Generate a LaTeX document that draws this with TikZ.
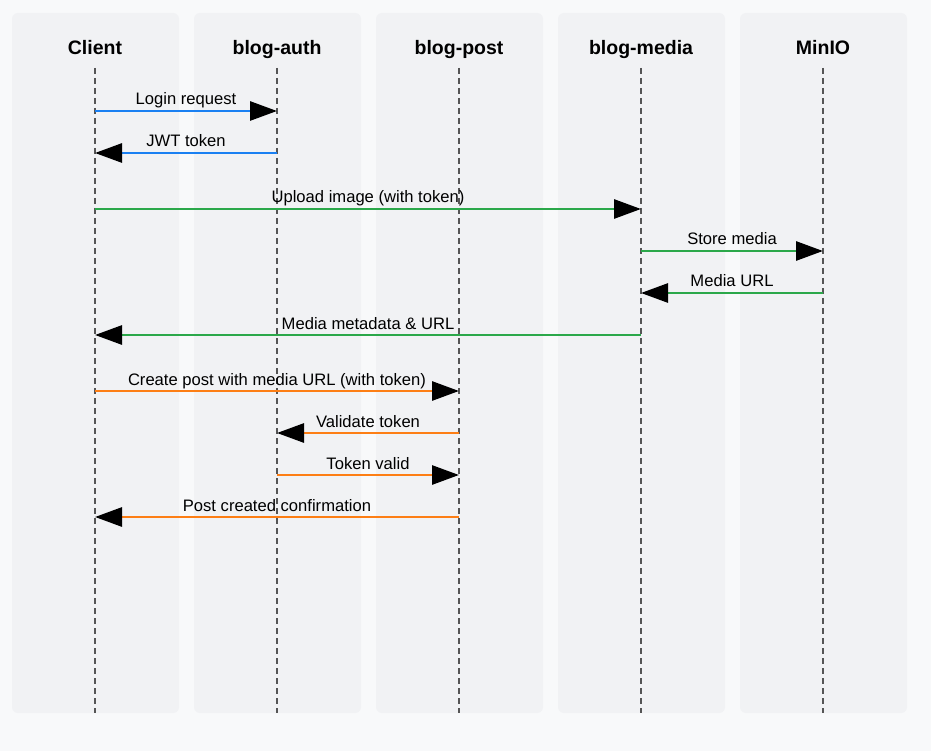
\documentclass[tikz,border=0pt]{standalone}
\usepackage{fontspec}
\setmainfont{Liberation Sans}
\usepackage{tikz}
\usetikzlibrary{arrows.meta}
\definecolor{pagebg}{HTML}{F8F9FA}
\definecolor{lanebg}{HTML}{F1F2F4}
\definecolor{lifegray}{HTML}{555555}
\definecolor{msgblue}{HTML}{1A80F2}
\definecolor{msggreen}{HTML}{2BA84A}
\definecolor{msgorange}{HTML}{FD7E14}

\begin{document}
\begin{tikzpicture}[x=1pt,y=-1pt,
    lane/.style={fill=lanebg,rounded corners=6pt},
    actor/.style={font=\fontsize{19.5}{22}\selectfont\bfseries,anchor=base},
    life/.style={draw=lifegray,line width=1.3pt,dash pattern=on 6pt off 4pt},
    msg/.style={line width=2.8pt,-{Triangle[length=27pt,width=19pt,black]}},
    lbl/.style={font=\fontsize{16.6}{19}\selectfont,text=black,anchor=base,yshift=6pt}]
    \fill[pagebg] (0,0) rectangle (931,751);
    \useasboundingbox (0,0) rectangle (931,751);
    \foreach \name/\title [count=\i from 0] in {client/Client,auth/blog-auth,post/blog-post,media/blog-media,minio/MinIO}{
        \fill[lane] (12+182*\i,13) rectangle (179+182*\i,713);
        \node[actor] (\name) at (95+182*\i,55) {\title};
        \coordinate (\name-top) at (95+182*\i,68);
        \coordinate (\name-bot) at (95+182*\i,713);
    }
    \foreach \name in {client,auth,post,media,minio}
        \draw[life] (\name-top) -- (\name-bot);
    \foreach \from/\to/\y/\col/\txt in {
        client/auth/111/msgblue/Login request,
        auth/client/153/msgblue/JWT token,
        client/media/209/msggreen/Upload image (with token),
        media/minio/251/msggreen/Store media,
        minio/media/293/msggreen/Media URL,
        media/client/335/msggreen/Media metadata \& URL,
        client/post/391/msgorange/Create post with media URL (with token),
        post/auth/433/msgorange/Validate token,
        auth/post/475/msgorange/Token valid,
        post/client/517/msgorange/Post created confirmation}
        \draw[msg,\col] (\from-top |- 0,\y) -- (\to-top |- 0,\y) node[lbl,midway] {\txt};
\end{tikzpicture}
\end{document}
